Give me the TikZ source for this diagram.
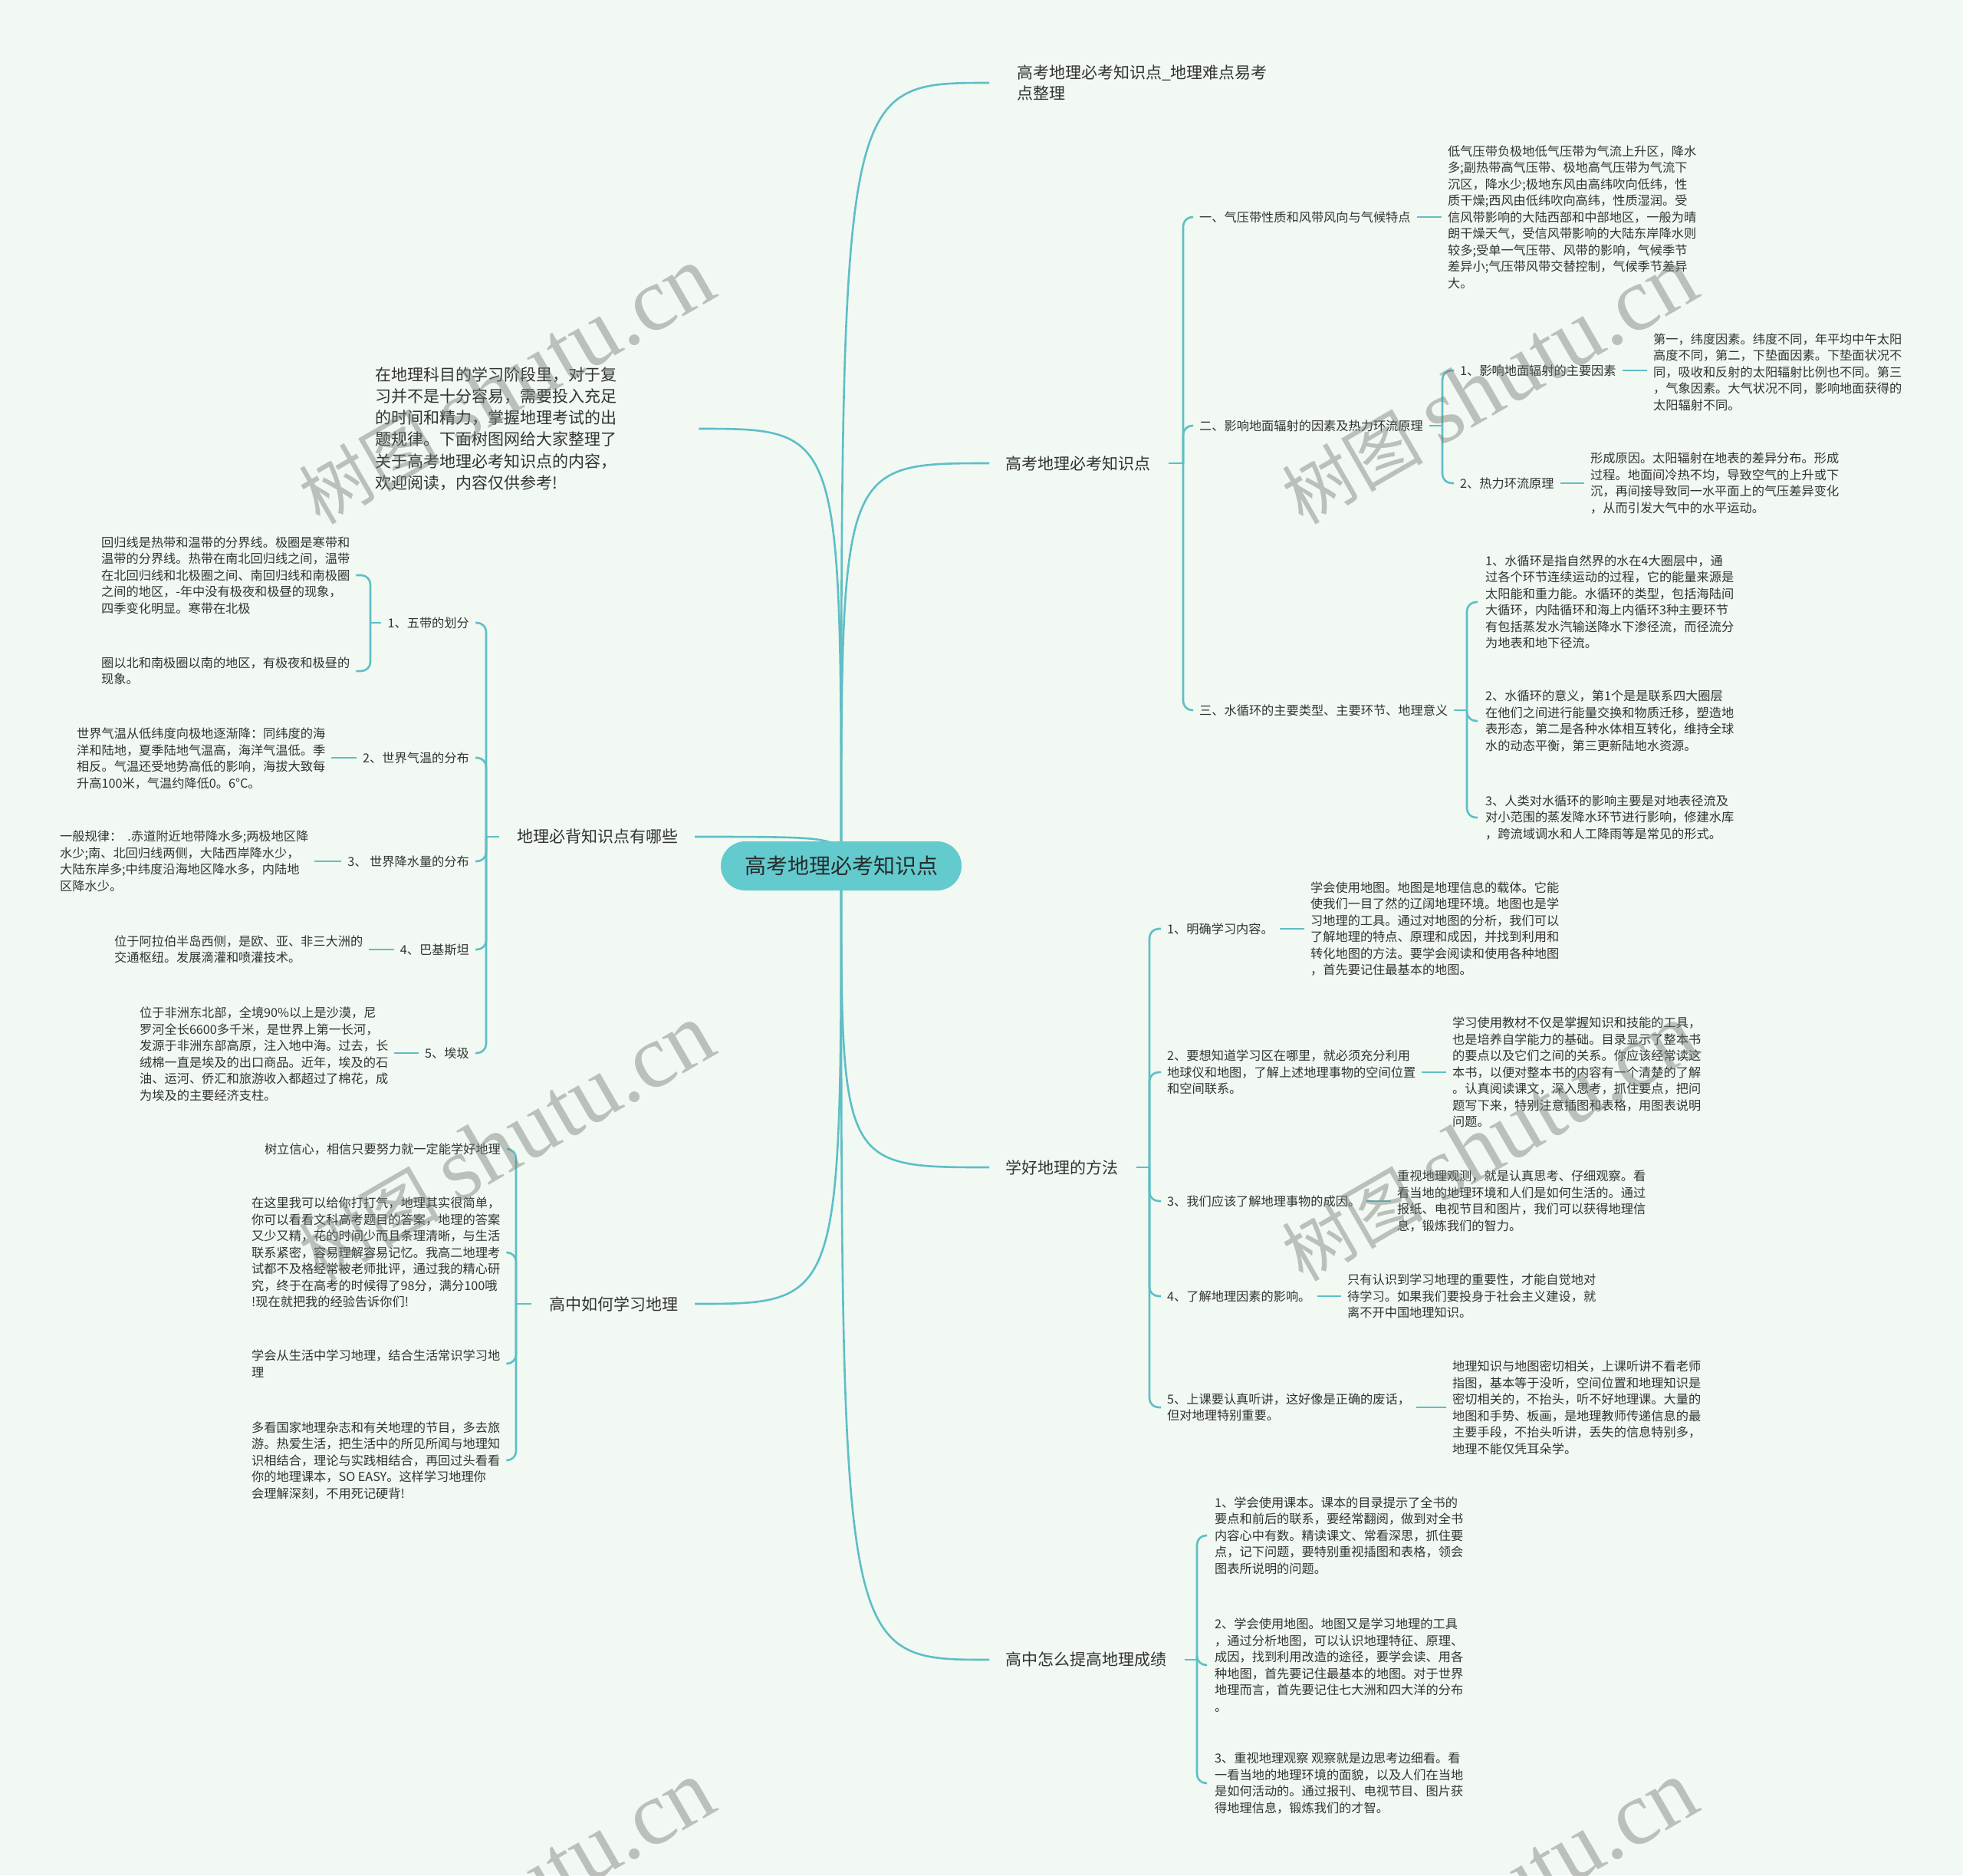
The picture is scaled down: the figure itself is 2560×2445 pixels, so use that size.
\documentclass[tikz,border=0pt]{standalone}
\usepackage{fontspec}
\setmainfont{Noto Sans CJK SC}
\newfontfamily\wmlatin{Liberation Serif}
\usetikzlibrary{calc}
\definecolor{bgc}{RGB}{241,249,242}
\definecolor{lnc}{RGB}{95,190,198}
\definecolor{ctrf}{RGB}{99,202,205}
\definecolor{ctrt}{RGB}{38,44,44}
\definecolor{txt}{RGB}{51,51,51}
\definecolor{wmc}{RGB}{120,126,120}
\pgfdeclarelayer{bg}
\pgfdeclarelayer{lines}
\pgfdeclarelayer{wm}
\pgfsetlayers{bg,lines,main,wm}
\tikzset{
  leaf/.style={inner sep=0pt, align=left, text=txt, font=\fontsize{16.2}{21.5}\selectfont},
  lvone/.style={inner sep=0pt, align=left, text=txt, font=\fontsize{21}{27.6}\selectfont},
  intro/.style={inner sep=0pt, align=left, text=txt, font=\fontsize{21}{28.3}\selectfont},
  centernode/.style={fill=ctrf, rounded corners=32pt, minimum width=314pt, minimum height=64pt, inner sep=0pt, text=ctrt, font=\fontsize{28}{32}\selectfont},
  link/.style={draw=lnc, line width=2.6pt},
  brk/.style={link, rounded corners=12pt},
  wmark/.style={rotate=30, text=wmc, opacity=0.45, inner sep=0pt}
}
\newcommand{\wmtext}{{\fontsize{92}{92}\selectfont 树图}\hspace{22pt}{\wmlatin\fontsize{118}{118}\selectfont shutu.cn}}
\begin{document}
\begin{tikzpicture}[x=1pt,y=-1pt]
\useasboundingbox (0,0) rectangle (2560,2445);
\begin{pgfonlayer}{bg}
\fill[bgc] (0,0) rectangle (2560,2445);
\end{pgfonlayer}

% ---------- center ----------
\node[centernode] (C) at (1097,1129) {高考地理必考知识点};

% ---------- right level 1 ----------
\node[lvone, anchor=west] (R1) at (1326,108) {高考地理必考知识点\_地理难点易考\\点整理};
\node[lvone, anchor=west] (R2) at (1311,604) {高考地理必考知识点};
\node[lvone, anchor=west] (R3) at (1311,1522) {学好地理的方法};
\node[lvone, anchor=west] (R4) at (1311,2164) {高中怎么提高地理成绩};

% ---------- R2 ----------
\node[leaf, anchor=west] (R2a) at (1564,283) {一、气压带性质和风带风向与气候特点};
\node[leaf, anchor=west] (R2aL) at (1888,283) {低气压带负极地低气压带为气流上升区，降水\\多;副热带高气压带、极地高气压带为气流下\\沉区，降水少;极地东风由高纬吹向低纬，性\\质干燥;西风由低纬吹向高纬，性质湿润。受\\信风带影响的大陆西部和中部地区，一般为晴\\朗干燥天气，受信风带影响的大陆东岸降水则\\较多;受单一气压带、风带的影响，气候季节\\差异小;气压带风带交替控制，气候季节差异\\大。};
\node[leaf, anchor=west] (R2b) at (1564,555) {二、影响地面辐射的因素及热力环流原理};
\node[leaf, anchor=west] (R2b1) at (1904,483) {1、影响地面辐射的主要因素};
\node[leaf, anchor=west] (R2b1L) at (2156,485) {第一，纬度因素。纬度不同，年平均中午太阳\\高度不同，第二，下垫面因素。下垫面状况不\\同，吸收和反射的太阳辐射比例也不同。第三\\，气象因素。大气状况不同，影响地面获得的\\太阳辐射不同。};
\node[leaf, anchor=west] (R2b2) at (1904,630) {2、热力环流原理};
\node[leaf, anchor=west] (R2b2L) at (2074,630) {形成原因。太阳辐射在地表的差异分布。形成\\过程。地面间冷热不均，导致空气的上升或下\\沉，再间接导致同一水平面上的气压差异变化\\，从而引发大气中的水平运动。};
\node[leaf, anchor=west] (R2c) at (1564,926) {三、水循环的主要类型、主要环节、地理意义};
\node[leaf, anchor=west] (R2c1) at (1937,785) {1、水循环是指自然界的水在4大圈层中，通\\过各个环节连续运动的过程，它的能量来源是\\太阳能和重力能。水循环的类型，包括海陆间\\大循环，内陆循环和海上内循环3种主要环节\\有包括蒸发水汽输送降水下渗径流，而径流分\\为地表和地下径流。};
\node[leaf, anchor=west] (R2c2) at (1937,940) {2、水循环的意义，第1个是是联系四大圈层\\在他们之间进行能量交换和物质迁移，塑造地\\表形态，第二是各种水体相互转化，维持全球\\水的动态平衡，第三更新陆地水资源。};
\node[leaf, anchor=west] (R2c3) at (1937,1066) {3、人类对水循环的影响主要是对地表径流及\\对小范围的蒸发降水环节进行影响，修建水库\\，跨流域调水和人工降雨等是常见的形式。};

% ---------- R3 ----------
\node[leaf, anchor=west] (R3a) at (1522,1211) {1、明确学习内容。};
\node[leaf, anchor=west] (R3aL) at (1709,1211) {学会使用地图。地图是地理信息的载体。它能\\使我们一目了然的辽阔地理环境。地图也是学\\习地理的工具。通过对地图的分析，我们可以\\了解地理的特点、原理和成因，并找到利用和\\转化地图的方法。要学会阅读和使用各种地图\\，首先要记住最基本的地图。};
\node[leaf, anchor=west] (R3b) at (1522,1398) {2、要想知道学习区在哪里，就必须充分利用\\地球仪和地图，了解上述地理事物的空间位置\\和空间联系。};
\node[leaf, anchor=west] (R3bL) at (1894,1398) {学习使用教材不仅是掌握知识和技能的工具，\\也是培养自学能力的基础。目录显示了整本书\\的要点以及它们之间的关系。你应该经常读这\\本书，以便对整本书的内容有一个清楚的了解\\。认真阅读课文，深入思考，抓住要点，把问\\题写下来，特别注意插图和表格，用图表说明\\问题。};
\node[leaf, anchor=west] (R3c) at (1522,1566) {3、我们应该了解地理事物的成因。};
\node[leaf, anchor=west] (R3cL) at (1822,1566) {重视地理观测，就是认真思考、仔细观察。看\\看当地的地理环境和人们是如何生活的。通过\\报纸、电视节目和图片，我们可以获得地理信\\息，锻炼我们的智力。};
\node[leaf, anchor=west] (R3d) at (1522,1690) {4、了解地理因素的影响。};
\node[leaf, anchor=west] (R3dL) at (1757,1690) {只有认识到学习地理的重要性，才能自觉地对\\待学习。如果我们要投身于社会主义建设，就\\离不开中国地理知识。};
\node[leaf, anchor=west] (R3e) at (1522,1835) {5、上课要认真听讲，这好像是正确的废话，\\但对地理特别重要。};
\node[leaf, anchor=west] (R3eL) at (1894,1835) {地理知识与地图密切相关，上课听讲不看老师\\指图，基本等于没听，空间位置和地理知识是\\密切相关的，不抬头，听不好地理课。大量的\\地图和手势、板画，是地理教师传递信息的最\\主要手段，不抬头听讲，丢失的信息特别多，\\地理不能仅凭耳朵学。};

% ---------- R4 ----------
\node[leaf, anchor=west] (R4a) at (1584,2002) {1、学会使用课本。课本的目录提示了全书的\\要点和前后的联系，要经常翻阅，做到对全书\\内容心中有数。精读课文、常看深思，抓住要\\点，记下问题，要特别重视插图和表格，领会\\图表所说明的问题。};
\node[leaf, anchor=west] (R4b) at (1584,2171) {2、学会使用地图。地图又是学习地理的工具\\，通过分析地图，可以认识地理特征、原理、\\成因，找到利用改造的途径，要学会读、用各\\种地图，首先要记住最基本的地图。对于世界\\地理而言，首先要记住七大洲和四大洋的分布\\。};
\node[leaf, anchor=west] (R4c) at (1584,2325) {3、重视地理观察 观察就是边思考边细看。看\\一看当地的地理环境的面貌，以及人们在当地\\是如何活动的。通过报刊、电视节目、图片获\\得地理信息，锻炼我们的才智。};

% ---------- left ----------
\node[intro, anchor=west] (L1) at (489,559) {在地理科目的学习阶段里，对于复\\习并不是十分容易，需要投入充足\\的时间和精力，掌握地理考试的出\\题规律。下面树图网给大家整理了\\关于高考地理必考知识点的内容，\\欢迎阅读，内容仅供参考!};
\node[lvone, anchor=east] (L2) at (885,1091) {地理必背知识点有哪些};
\node[lvone, anchor=east] (L3) at (885,1700) {高中如何学习地理};

\node[leaf, anchor=east] (L2a) at (612,812) {1、五带的划分};
\node[leaf, anchor=west] (L2a1) at (132,750) {回归线是热带和温带的分界线。极圈是寒带和\\温带的分界线。热带在南北回归线之间，温带\\在北回归线和北极圈之间、南回归线和南极圈\\之间的地区，-年中没有极夜和极昼的现象，\\四季变化明显。寒带在北极};
\node[leaf, anchor=west] (L2a2) at (132,875) {圈以北和南极圈以南的地区，有极夜和极昼的\\现象。};
\node[leaf, anchor=east] (L2b) at (612,988) {2、世界气温的分布};
\node[leaf, anchor=west] (L2bL) at (100,989) {世界气温从低纬度向极地逐渐降：同纬度的海\\洋和陆地，夏季陆地气温高，海洋气温低。季\\相反。气温还受地势高低的影响，海拔大致每\\升高100米，气温约降低0。6°C。};
\node[leaf, anchor=east] (L2c) at (612,1123) {3、 世界降水量的分布};
\node[leaf, anchor=west] (L2cL) at (78,1123) {一般规律：\ \ .赤道附近地带降水多;两极地区降\\水少;南、北回归线两侧，大陆西岸降水少，\\大陆东岸多;中纬度沿海地区降水多，内陆地\\区降水少。};
\node[leaf, anchor=east] (L2d) at (612,1238) {4、巴基斯坦};
\node[leaf, anchor=west] (L2dL) at (149,1238) {位于阿拉伯半岛西侧，是欧、亚、非三大洲的\\交通枢纽。发展滴灌和喷灌技术。};
\node[leaf, anchor=east] (L2e) at (612,1373) {5、埃圾};
\node[leaf, anchor=west] (L2eL) at (182,1374) {位于非洲东北部，全境90\%以上是沙漠，尼\\罗河全长6600多千米，是世界上第一长河，\\发源于非洲东部高原，注入地中海。过去，长\\绒棉一直是埃及的出口商品。近年，埃及的石\\油、运河、侨汇和旅游收入都超过了棉花，成\\为埃及的主要经济支柱。};

\node[leaf, anchor=east] (L3a) at (653,1498) {树立信心，相信只要努力就一定能学好地理};
\node[leaf, anchor=west] (L3b) at (328,1633) {在这里我可以给你打打气，地理其实很简单，\\你可以看看文科高考题目的答案，地理的答案\\又少又精，花的时间少而且条理清晰，与生活\\联系紧密，容易理解容易记忆。我高二地理考\\试都不及格经常被老师批评，通过我的精心研\\究，终于在高考的时候得了98分，满分100哦\\!现在就把我的经验告诉你们!};
\node[leaf, anchor=west] (L3c) at (328,1778) {学会从生活中学习地理，结合生活常识学习地\\理};
\node[leaf, anchor=west] (L3d) at (328,1904) {多看国家地理杂志和有关地理的节目，多去旅\\游。热爱生活，把生活中的所见所闻与地理知\\识相结合，理论与实践相结合，再回过头看看\\你的地理课本，SO EASY。这样学习地理你\\会理解深刻，不用死记硬背!};

% ---------- junctions ----------
\coordinate (jR2) at (1543,604);
\coordinate (jR2b) at (1881,555);
\coordinate (jR2c) at (1913,926);
\coordinate (jR3) at (1499,1522);
\coordinate (jR4) at (1561,2164);
\coordinate (jL2) at (634,1091);
\coordinate (jL2a) at (483,812);
\coordinate (jL3) at (673,1700);

\begin{pgfonlayer}{lines}
% main curves
\draw[link] (C.center) .. controls (C.center |- R1.west) .. ([xshift=-36pt]R1.west);
\draw[link] (C.center) .. controls (C.center |- R2.west) .. ([xshift=-21pt]R2.west);
\draw[link] (C.center) .. controls (C.center |- R3.west) .. ([xshift=-21pt]R3.west);
\draw[link] (C.center) .. controls (C.center |- R4.west) .. ([xshift=-21pt]R4.west);
\draw[link] (C.center) .. controls (C.center |- L1.east) .. ([xshift=107pt]L1.east);
\draw[link] (C.center) .. controls (C.center |- L2.east) .. ([xshift=21pt]L2.east);
\draw[link] (C.center) .. controls (C.center |- L3.east) .. ([xshift=21pt]L3.east);

% R2 branch
\draw[link] ([xshift=24pt]R2.east) -- (jR2);
\draw[brk] (jR2) |- ([xshift=-8pt]R2a.west);
\draw[brk] (jR2) |- ([xshift=-8pt]R2b.west);
\draw[brk] (jR2) |- ([xshift=-8pt]R2c.west);
\draw[link] ([xshift=8pt]R2a.east) -- ($(R2a.east -| R2aL.west)+(-8,0)$);
\draw[link] ([xshift=8pt]R2b.east) -- (jR2b);
\draw[brk] (jR2b) |- ([xshift=-8pt]R2b1.west);
\draw[brk] (jR2b) |- ([xshift=-8pt]R2b2.west);
\draw[link] ([xshift=8pt]R2b1.east) -- ($(R2b1.east -| R2b1L.west)+(-8,0)$);
\draw[link] ([xshift=8pt]R2b2.east) -- ($(R2b2.east -| R2b2L.west)+(-8,0)$);
\draw[link] ([xshift=8pt]R2c.east) -- (jR2c);
\draw[brk] (jR2c) |- ([xshift=-10pt]R2c1.west);
\draw[brk] (jR2c) |- ([xshift=-10pt]R2c2.west);
\draw[brk] (jR2c) |- ([xshift=-10pt]R2c3.west);

% R3 branch
\draw[link] ([xshift=24pt]R3.east) -- (jR3);
\draw[brk] (jR3) |- ([xshift=-8pt]R3a.west);
\draw[brk] (jR3) |- ([xshift=-8pt]R3b.west);
\draw[brk] (jR3) |- ([xshift=-8pt]R3c.west);
\draw[brk] (jR3) |- ([xshift=-8pt]R3d.west);
\draw[brk] (jR3) |- ([xshift=-8pt]R3e.west);
\draw[link] ([xshift=8pt]R3a.east) -- ($(R3a.east -| R3aL.west)+(-8,0)$);
\draw[link] ([xshift=8pt]R3b.east) -- ($(R3b.east -| R3bL.west)+(-8,0)$);
\draw[link] ([xshift=8pt]R3c.east) -- ($(R3c.east -| R3cL.west)+(-8,0)$);
\draw[link] ([xshift=8pt]R3d.east) -- ($(R3d.east -| R3dL.west)+(-8,0)$);
\draw[link] ([xshift=8pt]R3e.east) -- ($(R3e.east -| R3eL.west)+(-8,0)$);

% R4 branch
\draw[link] ([xshift=24pt]R4.east) -- (jR4);
\draw[brk] (jR4) |- ([xshift=-10pt]R4a.west);
\draw[brk] (jR4) |- ([xshift=-10pt]R4b.west);
\draw[brk] (jR4) |- ([xshift=-10pt]R4c.west);

% L2 branch
\draw[link] ([xshift=-24pt]L2.west) -- (jL2);
\draw[brk] (jL2) |- ([xshift=8pt]L2a.east);
\draw[brk] (jL2) |- ([xshift=8pt]L2b.east);
\draw[brk] (jL2) |- ([xshift=8pt]L2c.east);
\draw[brk] (jL2) |- ([xshift=8pt]L2d.east);
\draw[brk] (jL2) |- ([xshift=8pt]L2e.east);
\draw[link] ([xshift=-8pt]L2a.west) -- (jL2a);
\draw[brk] (jL2a) |- ([xshift=8pt]L2a1.east);
\draw[brk] (jL2a) |- ([xshift=8pt]L2a2.east);
\draw[link] ([xshift=-8pt]L2b.west) -- ($(L2b.west -| L2bL.east)+(8,0)$);
\draw[link] ([xshift=-8pt]L2c.west) -- ($(L2c.west -| L2cL.east)+(8,0)$);
\draw[link] ([xshift=-8pt]L2d.west) -- ($(L2d.west -| L2dL.east)+(8,0)$);
\draw[link] ([xshift=-8pt]L2e.west) -- ($(L2e.west -| L2eL.east)+(8,0)$);

% L3 branch
\draw[link] ([xshift=-24pt]L3.west) -- (jL3);
\draw[brk] (jL3) |- ([xshift=8pt]L3a.east);
\draw[brk] (jL3) |- ([xshift=8pt]L3b.east);
\draw[brk] (jL3) |- ([xshift=8pt]L3c.east);
\draw[brk] (jL3) |- ([xshift=8pt]L3d.east);
\end{pgfonlayer}

% ---------- watermarks ----------
\begin{pgfonlayer}{wm}
\node[wmark] (wm1) at (660,503) {\wmtext};
\node[wmark] (wm2) at (1942,503) {\wmtext};
\node[wmark] (wm3) at (660,1490) {\wmtext};
\node[wmark] (wm4) at (1942,1490) {\wmtext};
\node[wmark] (wm5) at (660,2477) {\wmtext};
\node[wmark] (wm6) at (1942,2477) {\wmtext};
\end{pgfonlayer}
\end{tikzpicture}
\end{document}
